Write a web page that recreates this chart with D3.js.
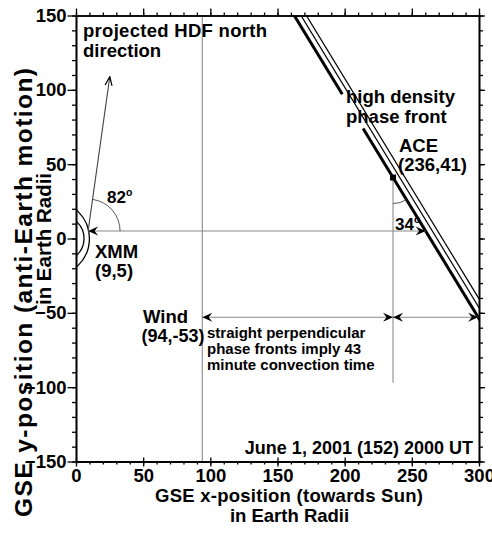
<!DOCTYPE html>
<html><head><meta charset="utf-8">
<script src="https://cdn.jsdelivr.net/npm/d3@7"></script>
<style>
html,body{margin:0;padding:0;background:#fff;}
svg{display:block;font-family:"Liberation Sans",Arial,Helvetica,sans-serif;font-weight:bold;}
</style></head><body>
<script>
// Spacecraft positions in GSE coordinates (Earth radii)
const spacecraft = ["XMM", "Wind", "ACE"];
const gseX = [9, 94, 236];
const gseY = [5, -53, 41];

// Phase-front geometry
const frontTiltDeg = 34;          // tilt of the front from the GSE y-axis
const frontOffsets = [0, 5, 9];   // thick front plus two thin companions, shifted in x (RE)
const frontLabelGap = [74, 97];   // y-range where the thick front breaks for its label
const hdfAngleDeg = 82;           // projected HDF north direction, measured from +x
const aceLineBottom = -97;        // lower end of the ACE reference line
const convectionMinutes = 43;

// Earth boundaries sketched at the left edge: centre x and radius (RE)
const boundaryCx = [-18, -11];
const boundaryR = [28, 17];

// Axis ticks
const xTicks = [0, 50, 100, 150, 200, 250, 300];
const yTicks = [-150, -100, -50, 0, 50, 100, 150];
const xMinor = d3.range(0, 301, 10);
const yMinor = d3.range(-150, 151, 10);

const W = 492, H = 533;
const m = {l: 76, r: 13, t: 15.5, b: 71.5};
const x = d3.scaleLinear().domain([0, 300]).range([m.l, W - m.r]);
const y = d3.scaleLinear().domain([-150, 150]).range([H - m.b, m.t]);

const svg = d3.select("body").append("svg").attr("width", W).attr("height", H);
const defs = svg.append("defs");
defs.append("clipPath").attr("id", "plot")
  .append("rect").attr("x", x(0)).attr("y", y(150))
  .attr("width", x(300) - x(0)).attr("height", y(-150) - y(150));

defs.append("marker").attr("id", "head")
  .attr("viewBox", "-11 -6 12 12").attr("refX", 0).attr("refY", 0)
  .attr("markerWidth", 12).attr("markerHeight", 12)
  .attr("markerUnits", "userSpaceOnUse").attr("orient", "auto-start-reverse")
  .append("path").attr("d", "M0,0L-10,-4.5L-6.5,0L-10,4.5Z").attr("fill", "#000");

defs.append("marker").attr("id", "open")
  .attr("viewBox", "-11 -6 12 12").attr("refX", 0).attr("refY", 0)
  .attr("markerWidth", 12).attr("markerHeight", 12)
  .attr("markerUnits", "userSpaceOnUse").attr("orient", "auto")
  .append("path").attr("d", "M-9,-3.5L0,0L-9,3.5").attr("fill", "none")
  .attr("stroke", "#000").attr("stroke-width", 1.2);

const tanT = Math.tan(frontTiltDeg * Math.PI / 180);
const ace = {x: gseX[2], y: gseY[2]};
// x position of a front (shifted by off) at a given GSE y
const frontX = (yv, off) => ace.x + off + (ace.y - yv) * tanT;

const plot = svg.append("g");
const clipped = plot.append("g").attr("clip-path", "url(#plot)");
const grey = "#8a8a8a";

// Earth boundaries
boundaryCx.forEach((cx, i) => {
  clipped.append("circle")
    .attr("cx", x(cx)).attr("cy", y(0))
    .attr("r", x(boundaryR[i]) - x(0))
    .attr("fill", "none").attr("stroke", "#000").attr("stroke-width", 1.3);
});

// Reference lines through Wind and ACE
clipped.append("line")
  .attr("x1", x(gseX[1])).attr("x2", x(gseX[1]))
  .attr("y1", y(-150)).attr("y2", y(150))
  .attr("stroke", grey).attr("stroke-width", 1.1);
clipped.append("line")
  .attr("x1", x(ace.x)).attr("x2", x(ace.x))
  .attr("y1", y(ace.y)).attr("y2", y(aceLineBottom))
  .attr("stroke", grey).attr("stroke-width", 1.1);

// Phase fronts
frontOffsets.forEach((off, i) => {
  const segs = i === 0
    ? [[160, frontLabelGap[1]], [frontLabelGap[0], -160]]
    : [[160, -160]];
  segs.forEach(([y0, y1]) => {
    clipped.append("line")
      .attr("x1", x(frontX(y0, off))).attr("y1", y(y0))
      .attr("x2", x(frontX(y1, off))).attr("y2", y(y1))
      .attr("stroke", "#000").attr("stroke-width", i === 0 ? 3 : 1.2);
  });
});

// Distance arrows along x
const arrows = [
  [gseX[0], frontX(gseY[0], 0), gseY[0]],
  [gseX[1], ace.x, gseY[1]],
  [ace.x, frontX(gseY[1], 0), gseY[1]]
];
arrows.forEach(([xa, xb, yv]) => {
  plot.append("line")
    .attr("x1", x(xa)).attr("x2", x(xb)).attr("y1", y(yv)).attr("y2", y(yv))
    .attr("stroke", grey).attr("stroke-width", 1.1)
    .attr("marker-start", "url(#head)").attr("marker-end", "url(#head)");
});

// HDF north direction from XMM
const px = x(gseX[0]), py = y(gseY[0]);
const hdfRad = hdfAngleDeg * Math.PI / 180;
const hdfLen = 156;
plot.append("line")
  .attr("x1", px).attr("y1", py)
  .attr("x2", px + hdfLen * Math.cos(hdfRad)).attr("y2", py - hdfLen * Math.sin(hdfRad))
  .attr("stroke", "#444").attr("stroke-width", 1.1)
  .attr("marker-end", "url(#open)");
const rA = 32;
plot.append("path")
  .attr("d", `M${px + rA},${py}A${rA},${rA} 0 0 0 ${px + rA * Math.cos(hdfRad)},${py - rA * Math.sin(hdfRad)}`)
  .attr("fill", "none").attr("stroke", "#444").attr("stroke-width", 0.9);

// Angle between ACE line and the front
const ax = x(ace.x), ay = y(ace.y);
const fdx = x(frontX(ace.y - 10, 0)) - ax, fdy = y(ace.y - 10) - ay;
const fAng = Math.atan2(fdy, fdx);
const rB = 26;
plot.append("path")
  .attr("d", `M${ax},${ay + rB}A${rB},${rB} 0 0 0 ${ax + rB * Math.cos(fAng)},${ay + rB * Math.sin(fAng)}`)
  .attr("fill", "none").attr("stroke", "#444").attr("stroke-width", 0.9);

// ACE marker
plot.append("rect")
  .attr("x", ax - 3).attr("y", ay - 3).attr("width", 6).attr("height", 6).attr("fill", "#000");

// Axes
function axis(gen, tr, vals, size, labels, pad) {
  const g = svg.append("g").attr("transform", tr)
    .call(gen.tickValues(vals).tickSize(size).tickSizeOuter(0).tickPadding(pad || 2)
      .tickFormat(labels ? d3.format("d") : ""));
  g.select(".domain").attr("stroke-width", 1.6);
  g.selectAll(".tick line").attr("stroke-width", 1.3);
  g.selectAll("text").attr("font-size", 18.5).attr("font-weight", "bold")
    .attr("font-family", "'Liberation Sans', Arial, sans-serif").attr("fill", "#000");
  return g;
}
const bT = `translate(0,${y(-150)})`, tT = `translate(0,${y(150)})`;
const lT = `translate(${x(0)},0)`, rT = `translate(${x(300)},0)`;
axis(d3.axisBottom(x), bT, xMinor, 3, false);
axis(d3.axisBottom(x), bT, xTicks, 5, true, 2);
axis(d3.axisTop(x), bT, xTicks, 4, false);
axis(d3.axisTop(x), tT, xMinor, 3, false);
axis(d3.axisTop(x), tT, xTicks, 7, false);
axis(d3.axisLeft(y), lT, yMinor, 4, false);
axis(d3.axisLeft(y), lT, yTicks, 8.5, true, 1);
axis(d3.axisRight(y), rT, yMinor, 4, false);
axis(d3.axisRight(y), rT, yTicks, 6, false);

// Text annotations
const ann = svg.append("g").attr("fill", "#000");
function label(str, tx, ty, size, opts) {
  const t = ann.append("text").attr("x", tx).attr("y", ty).attr("font-size", size).text(str);
  if (opts && opts.anchor) t.attr("text-anchor", opts.anchor);
  if (opts && opts.len) t.attr("textLength", opts.len).attr("lengthAdjust", "spacing");
  return t;
}
function degree(str, tx, ty, size) {
  const t = ann.append("text").attr("x", tx).attr("y", ty).attr("font-size", size).text(str);
  t.append("tspan").attr("font-size", size * 0.62).attr("dy", -size * 0.42).text("o");
}

label("projected HDF north", 83, 37, 18.5, {len: 184});
label("direction", 83, 56.5, 18.5);
degree(String(hdfAngleDeg), 107, 203, 17);
label(spacecraft[0], 95, 258, 18.5);
label(`(${gseX[0]},${gseY[0]})`, 95, 277, 18.5);
label(spacecraft[1], 143, 323, 18.5);
label(`(${gseX[1]},${gseY[1]})`, 141.5, 342, 18);
label("straight perpendicular", 207, 338, 15);
label(`phase fronts imply ${convectionMinutes}`, 207, 354, 15);
label("minute convection time", 207, 369.5, 15);
label("high density", 346, 103, 18.5);
label("phase front", 346, 123, 18.5);
label(spacecraft[2], 399, 152, 18.5);
label(`(${gseX[2]},${gseY[2]})`, 398, 171, 18.5);
degree(String(frontTiltDeg), 395, 230, 17);
label("June 1, 2001 (152) 2000 UT", 473, 454, 18, {anchor: "end"});

label("GSE x-position (towards Sun)", 289, 501.5, 18.5, {anchor: "middle", len: 268});
label("in Earth Radii", 289.5, 522, 18.5, {anchor: "middle"});

ann.append("text").attr("transform", "translate(32,292.5) rotate(-90)")
  .attr("text-anchor", "middle").attr("font-size", 24.5)
  .attr("textLength", 449).attr("lengthAdjust", "spacing")
  .text("GSE y-position (anti-Earth motion)");
ann.append("text").attr("transform", "translate(50.5,239) rotate(-90)")
  .attr("text-anchor", "middle").attr("font-size", 20.5)
  .text("in Earth Radii");
</script>
</body></html>
